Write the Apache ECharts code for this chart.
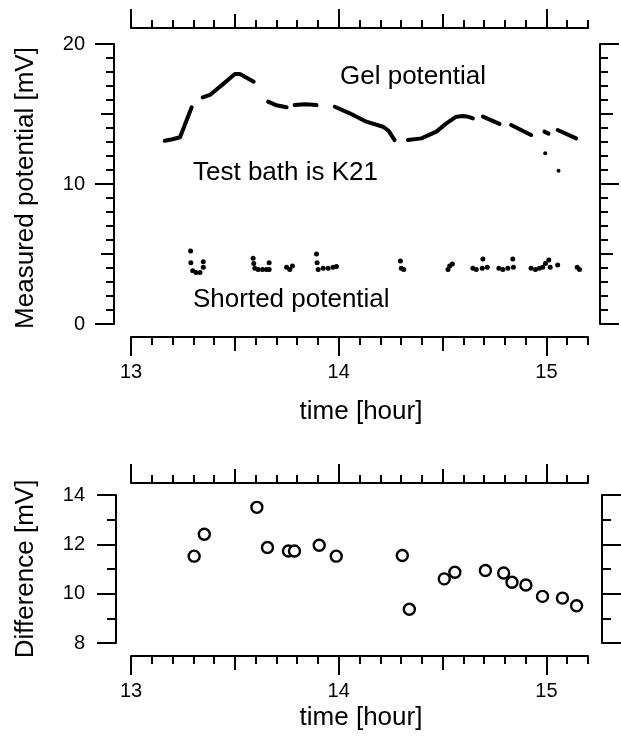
<!DOCTYPE html>
<html>
<head>
<meta charset="utf-8">
<script src="https://cdn.jsdelivr.net/npm/echarts@6/dist/echarts.min.js"></script>
<style>
html,body{margin:0;padding:0;background:#fff;}
#chart{width:621px;height:746px;}
</style>
</head>
<body>
<div id="chart"></div>
<script>
// ---- data ----
const timeTicks = [13, 14, 15];
const potentialTicks = [0, 10, 20];
const differenceTicks = [8, 10, 12, 14];

// Gel potential (null separates drawn segments)
const gelTime  = [13.163, 13.20, 13.236, 13.292, null,
                  13.345, 13.380, 13.44, 13.50, 13.524, 13.548, 13.591, null,
                  13.660, 13.70, 13.749, null,
                  13.788, 13.84, 13.893, null,
                  13.981, 14.053, 14.133, 14.213, 14.24, 14.269, null,
                  14.333, 14.398, 14.470, 14.518, 14.566, 14.60, 14.622, 14.646, null,
                  14.694, 14.774, null,
                  14.830, 14.926, null,
                  14.990, 15.010, null,
                  15.054, 15.143];
const gelValue = [13.09, 13.2, 13.34, 15.48, null,
                  16.19, 16.36, 17.1, 17.86, 17.86, 17.66, 17.31, null,
                  15.88, 15.62, 15.48, null,
                  15.64, 15.7, 15.64, null,
                  15.52, 15.05, 14.45, 14.09, 13.8, 13.14, null,
                  13.14, 13.26, 13.74, 14.33, 14.81, 14.85, 14.81, 14.69, null,
                  14.81, 14.29, null,
                  14.21, 13.5, null,
                  13.74, 13.6, null,
                  13.86, 13.26];
const gelOutlierTime  = [14.994, 15.058];
const gelOutlierValue = [12.19, 10.95];

// Shorted potential
const shortTime  = [13.287, 13.288, 13.297, 13.313, 13.332, 13.348, 13.348,
                    13.588, 13.591, 13.596, 13.612, 13.633, 13.652, 13.665, 13.665,
                    13.749, 13.764, 13.777,
                    13.893, 13.896, 13.901, 13.925, 13.949, 13.973, 13.989,
                    14.297, 14.301, 14.313,
                    14.526, 14.534, 14.547,
                    14.646, 14.662, 14.694, 14.691, 14.715,
                    14.771, 14.790, 14.814, 14.838, 14.841,
                    14.926, 14.947, 14.966, 14.982, 14.995, 15.011, 15.018, 15.054,
                    15.148, 15.159];
const shortValue = [5.21, 4.38, 3.81, 3.67, 3.67, 4.05, 4.45,
                    4.69, 4.33, 3.98, 3.9, 3.9, 3.9, 4.38, 3.9,
                    4.05, 3.9, 4.14,
                    5.0, 4.38, 3.9, 3.98, 3.98, 4.05, 4.1,
                    4.5, 3.98, 3.9,
                    3.9, 4.14, 4.29,
                    3.98, 3.9, 4.64, 3.98, 4.05,
                    3.98, 3.9, 3.98, 4.64, 4.05,
                    3.98, 3.9, 3.98, 4.05, 4.33, 4.57, 4.05, 4.21,
                    4.05, 3.9];

// Difference
const diffTime  = [13.304, 13.353, 13.606, 13.657, 13.758, 13.787, 13.906, 13.988,
                   14.306, 14.340, 14.508, 14.559, 14.706, 14.794, 14.834, 14.901,
                   14.981, 15.077, 15.145];
const diffValue = [11.52, 12.41, 13.50, 11.87, 11.73, 11.73, 11.96, 11.52,
                   11.55, 9.37, 10.60, 10.87, 10.94, 10.84, 10.46, 10.35,
                   9.89, 9.82, 9.51];

// ---- chart ----
const FONT = '"Liberation Sans", Arial, Helvetica, sans-serif';
const BLACK = '#000';
const TMIN = 13, TMAX = 15.2;
const minorTimeTicks = [];
for (let k = 0; k <= 22; k++) minorTimeTicks.push(Math.round((TMIN + k * 0.1) * 10) / 10);
const midTimeTicks = timeTicks.map(t => t + 0.5).filter(t => t <= TMAX);
const midPotentialTicks = [5, 15];

const lineStyle = { color: BLACK, width: 2 };

function tickAxis(kind, grid, position, offset, min, max, values, len) {
  return {
    gridIndex: grid, type: 'value', position: position, offset: offset,
    min: min, max: max,
    axisLine: { show: false, onZero: false },
    axisTick: { show: true, customValues: values, length: len, lineStyle: lineStyle },
    axisLabel: { show: false, customValues: values },
    splitLine: { show: false }
  };
}

function mainAxis(grid, position, offset, min, max, majors, showLabels, margin) {
  return {
    gridIndex: grid, type: 'value', position: position, offset: offset,
    min: min, max: max,
    axisLine: { show: true, onZero: false, lineStyle: lineStyle },
    axisTick: { show: true, customValues: majors, length: 19, lineStyle: lineStyle },
    axisLabel: { show: showLabels, customValues: majors, margin: margin, fontSize: 20,
                 color: BLACK, fontFamily: FONT },
    splitLine: { show: false }
  };
}

function xSet(grid, position, offset, showLabels) {
  return [
    mainAxis(grid, position, offset, TMIN, TMAX, timeTicks, showLabels, 25),
    tickAxis('x', grid, position, offset, TMIN, TMAX, minorTimeTicks, 8),
    tickAxis('x', grid, position, offset, TMIN, TMAX, midTimeTicks, 14)
  ];
}

const P0 = potentialTicks[0], P1 = potentialTicks[potentialTicks.length - 1];
const D0 = differenceTicks[0], D1 = differenceTicks[differenceTicks.length - 1];
const minorPotentialTicks = [];
for (let v = P0; v <= P1; v++) minorPotentialTicks.push(v);
const minorDifferenceTicks = [];
for (let v = D0; v <= D1; v++) minorDifferenceTicks.push(v);

function ySetTop(position, offset, showLabels, margin) {
  return [
    mainAxis(0, position, offset, P0, P1, potentialTicks, showLabels, margin),
    tickAxis('y', 0, position, offset, P0, P1, minorPotentialTicks, 8),
    tickAxis('y', 0, position, offset, P0, P1, midPotentialTicks, 13)
  ];
}
function ySetBottom(position, offset, showLabels, margin) {
  return [
    mainAxis(1, position, offset, D0, D1, differenceTicks, showLabels, margin),
    tickAxis('y', 1, position, offset, D0, D1, minorDifferenceTicks, 9)
  ];
}

const xAxes = [].concat(
  xSet(0, 'bottom', 13, true),   // 0,1,2
  xSet(0, 'top', 16, false),     // 3,4,5
  xSet(1, 'bottom', 13, true),   // 6,7,8
  xSet(1, 'top', 12, false)      // 9,10,11
);
const yAxes = [].concat(
  ySetTop('left', 17, true, 29),      // 0,1,2
  ySetTop('right', 12, false, 8),     // 3,4,5
  ySetBottom('left', 15, true, 31),   // 6,7
  ySetBottom('right', 14, false, 8)   // 8,9
);

const gelData = gelTime.map((t, i) => (gelValue[i] == null ? '-' : [t, gelValue[i]]));
const gelOutliers = gelOutlierTime.map((t, i) => [t, gelOutlierValue[i]]);
const shortData = shortTime.map((t, i) => [t, shortValue[i]]);
const diffData = diffTime.map((t, i) => [t, diffValue[i]]);

const textStyleBase = { fill: BLACK, fontSize: 26, fontFamily: FONT };

const option = {
  backgroundColor: '#fff',
  animation: false,
  grid: [
    { left: 131, top: 44, width: 457, height: 280, containLabel: false, outerBoundsMode: 'none' },
    { left: 131, top: 495, width: 457, height: 148, containLabel: false, outerBoundsMode: 'none' }
  ],
  xAxis: xAxes,
  yAxis: yAxes,
  series: [
    {
      type: 'line', xAxisIndex: 0, yAxisIndex: 0, data: gelData,
      showSymbol: false, symbol: 'none', connectNulls: false,
      lineStyle: { color: BLACK, width: 4, cap: 'round', join: 'round', opacity: 1 }
    },
    {
      type: 'scatter', xAxisIndex: 0, yAxisIndex: 0, data: gelOutliers,
      symbol: 'circle', symbolSize: 4, itemStyle: { color: BLACK, opacity: 1 }
    },
    {
      type: 'scatter', xAxisIndex: 0, yAxisIndex: 0, data: shortData,
      symbol: 'circle', symbolSize: 5, itemStyle: { color: BLACK, opacity: 1 }
    },
    {
      type: 'scatter', xAxisIndex: 6, yAxisIndex: 6, data: diffData,
      symbol: 'circle', symbolSize: 11,
      itemStyle: { color: '#fff', borderColor: BLACK, borderWidth: 2.4, opacity: 1 }
    }
  ],
  graphic: [
    { type: 'text', x: 26, y: 188, rotation: Math.PI / 2,
      style: Object.assign({ text: 'Measured potential [mV]', align: 'center', verticalAlign: 'middle' }, textStyleBase) },
    { type: 'text', x: 26, y: 569, rotation: Math.PI / 2,
      style: Object.assign({ text: 'Difference [mV]', align: 'center', verticalAlign: 'middle' }, textStyleBase) },
    { type: 'text', x: 361, y: 412,
      style: Object.assign({ text: 'time [hour]', align: 'center', verticalAlign: 'middle' }, textStyleBase) },
    { type: 'text', x: 361, y: 718,
      style: Object.assign({ text: 'time [hour]', align: 'center', verticalAlign: 'middle' }, textStyleBase) },
    { type: 'text', x: 340, y: 77,
      style: Object.assign({ text: 'Gel potential', align: 'left', verticalAlign: 'middle' }, textStyleBase) },
    { type: 'text', x: 193, y: 173,
      style: Object.assign({ text: 'Test bath is K21', align: 'left', verticalAlign: 'middle' }, textStyleBase) },
    { type: 'text', x: 193, y: 300,
      style: Object.assign({ text: 'Shorted potential', align: 'left', verticalAlign: 'middle' }, textStyleBase) }
  ]
};

const chart = echarts.init(document.getElementById('chart'), null, { renderer: 'canvas' });
chart.setOption(option);
</script>
</body>
</html>
